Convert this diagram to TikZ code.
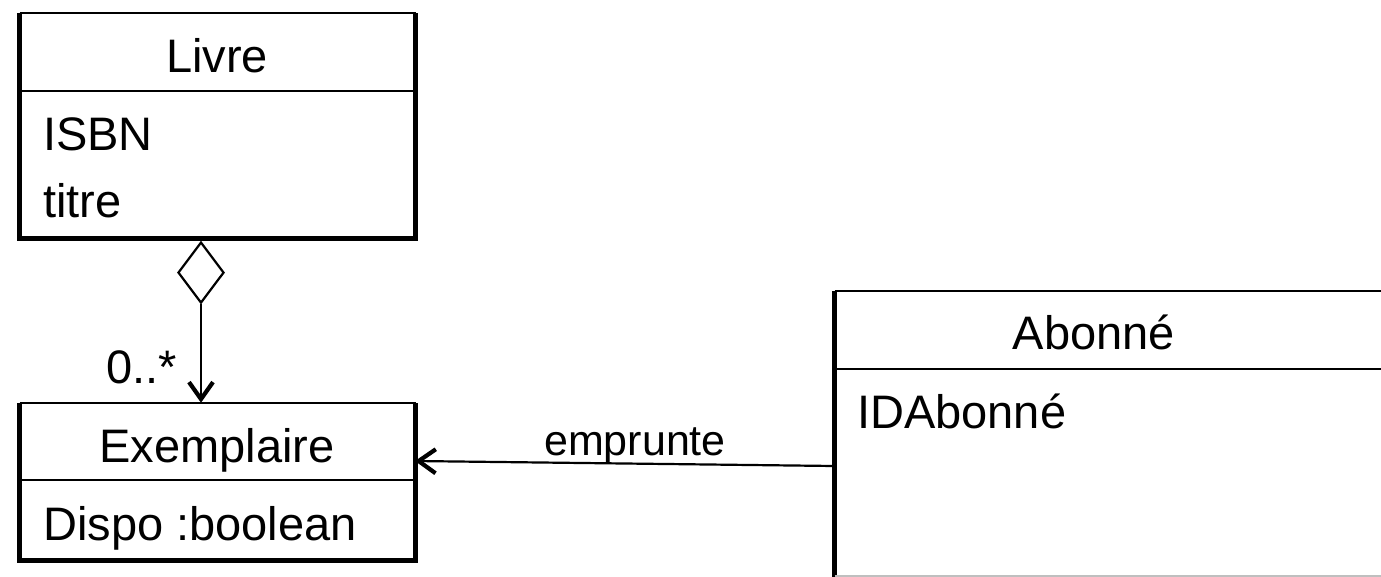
\documentclass[tikz,border=0pt]{standalone}
\usepackage{fontspec}
\setmainfont{Liberation Sans}
\usetikzlibrary{arrows.meta,shapes.geometric}
\begin{document}
\begin{tikzpicture}[x=1pt,y=-1pt,
  boxarea/.style={draw=none, inner sep=0pt, outer sep=0pt},
  edgethin/.style={line width=2.2pt},
  edgethick/.style={line width=4.8pt, line join=miter},
  ttl/.style={inner sep=0pt, anchor=base, font=\fontsize{47}{56}\selectfont},
  attr/.style={inner sep=0pt, anchor=base west, font=\fontsize{47}{56}\selectfont},
  lbl/.style={inner sep=0pt, anchor=base, font=\fontsize{47}{56}\selectfont},
  conn/.style={line width=2.2pt},
  barb/.style={-{Straight Barb[length=17pt,width=24pt,line width=4.2pt]}}
]
\clip (0,0) rectangle (1381,576);
\fill[white] (0,0) rectangle (1381,576);

% Livre
\node[boxarea, minimum width=396, minimum height=225.5] (livre) at (217.5,125.75) {};
\draw[edgethin] (livre.north west) -- (livre.north east);
\draw[edgethin] (19.5,91) coordinate (ld1) -- (415.5,91) coordinate (ld2);
\draw[edgethick] (livre.north west) -- (livre.south west) -- (livre.south east) -- (livre.north east);
\node[ttl] (livreT) at (217,72) {Livre};
\node[attr] (isbn) at (43,150) {ISBN};
\node[attr] (titre) at (43,217) {titre};

% Exemplaire
\node[boxarea, minimum width=396, minimum height=158] (exemp) at (217.5,481.75) {};
\draw[edgethin] (exemp.north west) -- (exemp.north east);
\draw[edgethin] (19.5,480) coordinate (ed1) -- (415.5,480) coordinate (ed2);
\draw[edgethick] (exemp.north west) -- (exemp.south west) -- (exemp.south east) -- (exemp.north east);
\node[ttl] (exempT) at (217,462) {Exemplaire};
\node[attr] (dispo) at (43,540) {Dispo :boolean};

% Abonne
\node[boxarea, minimum width=560, minimum height=295, anchor=north west] (abonne) at (834.5,291) {};
\draw[edgethin] (abonne.north west) -- (abonne.north east);
\draw[edgethin] (834.5,369) coordinate (ad1) -- (1400,369) coordinate (ad2);
\draw[edgethick] (abonne.north west) -- (abonne.south west);
\draw[line width=1.5pt, black!25] (834.5,576) -- (1381,576);
\node[ttl] (abonneT) at (1094,349) {Abonné};
\node[attr] (idab) at (857,428) {IDAbonné};

% Aggregation
\node[diamond, draw, line width=2.2pt, inner sep=0pt, minimum width=46, minimum height=61, anchor=north] (agg) at (201,241) {};
\draw[conn, barb] (agg.south) -- (agg.south |- exemp.north);
\node[lbl] (mult) at (142,383) {0..*};

% emprunte
\coordinate (e1) at (834.5,466);
\coordinate (e2) at (415,461);
\draw[conn, barb] (e1) -- (e2);
\node[lbl, font=\fontsize{43}{50}\selectfont] (empr) at (635,455) {emprunte};
\end{tikzpicture}
\end{document}
